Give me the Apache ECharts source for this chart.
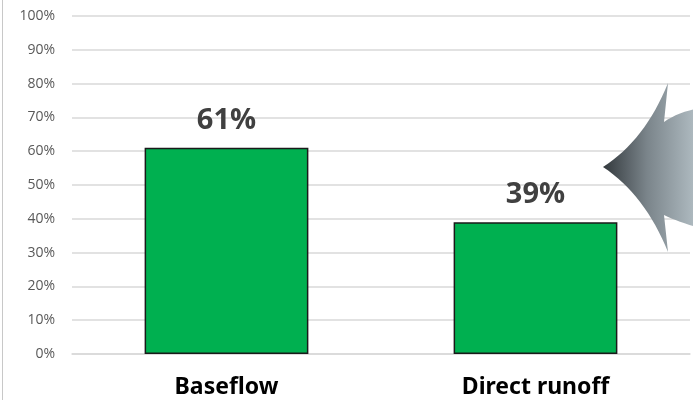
<!DOCTYPE html>
<html>
<head>
<meta charset="utf-8">
<script src="https://cdn.jsdelivr.net/npm/echarts@6/dist/echarts.min.js"></script>
<style>
  html, body { margin: 0; padding: 0; background: #ffffff; }
  #chart { width: 693px; height: 400px; }
</style>
</head>
<body>
<div id="chart"></div>
<script>
// Share of streamflow by component (percent)
const categories = ['Baseflow', 'Direct runoff'];
const shares = [61, 39];
const yTicks = { min: 0, max: 100, step: 10 };

// Outline of the pointer shape: straight segments and quadratic curves
function quad(p0, c, p1, n) {
  const pts = [];
  for (let i = 1; i <= n; i++) {
    const t = i / n, u = 1 - t;
    pts.push([u * u * p0[0] + 2 * u * t * c[0] + t * t * p1[0],
              u * u * p0[1] + 2 * u * t * c[1] + t * t * p1[1]]);
  }
  return pts;
}
function pointerOutline() {
  let pts = [[603, 167]];
  pts = pts.concat(quad([603, 167], [645, 140], [668, 83], 16));
  pts.push([664, 122]);
  pts = pts.concat(quad([664, 122], [678, 112], [700, 108], 8));
  pts.push([700, 228]);
  pts = pts.concat(quad([700, 228], [678, 222], [664, 215], 8));
  pts.push([668, 252]);
  pts = pts.concat(quad([668, 252], [645, 195], [603, 167], 16));
  return pts;
}

const chart = echarts.init(document.getElementById('chart'), null, { renderer: 'canvas' });

chart.setOption({
  animation: false,
  backgroundColor: '#ffffff',
  grid: { left: 72, right: 3, top: 16, bottom: 46, containLabel: false },
  xAxis: {
    type: 'category',
    data: categories,
    axisLine: { show: true, lineStyle: { color: '#d9d9d9', width: 1.5 } },
    axisTick: { show: false },
    axisLabel: {
      margin: 22,
      color: '#000000',
      fontSize: 23,
      fontWeight: 'bold',
      fontFamily: 'Noto Sans'
    }
  },
  yAxis: {
    type: 'value',
    min: yTicks.min,
    max: yTicks.max,
    interval: yTicks.step,
    axisLine: { show: false },
    axisTick: { show: false },
    splitLine: { lineStyle: { color: '#d9d9d9', width: 1.5 } },
    axisLabel: {
      formatter: '{value}%',
      margin: 17,
      color: '#595959',
      fontSize: 14,
      fontFamily: 'Open Sans'
    }
  },
  series: [{
    type: 'bar',
    data: shares,
    barWidth: '53%',
    itemStyle: { color: '#00b050', borderColor: '#1a1a1a', borderWidth: 1.5 },
    label: {
      show: true,
      position: 'top',
      distance: 13,
      formatter: '{c}%',
      color: '#404040',
      fontSize: 29,
      fontWeight: 'bold',
      fontFamily: 'Open Sans'
    }
  }],
  graphic: [
    {
      // frame edge on the left
      type: 'rect',
      shape: { x: 2, y: 0, width: 1, height: 400 },
      style: { fill: '#c8c8c8' },
      silent: true
    },
    {
      // pointing arrow at the right edge
      type: 'polygon',
      z: 100,
      shape: { points: pointerOutline() },
      style: {
        fill: new echarts.graphic.LinearGradient(0, 0, 1, 0, [
          { offset: 0, color: '#33393d' },
          { offset: 0.45, color: '#7a848a' },
          { offset: 1, color: '#b4c0c6' }
        ])
      },
      silent: true
    }
  ]
});
</script>
</body>
</html>
